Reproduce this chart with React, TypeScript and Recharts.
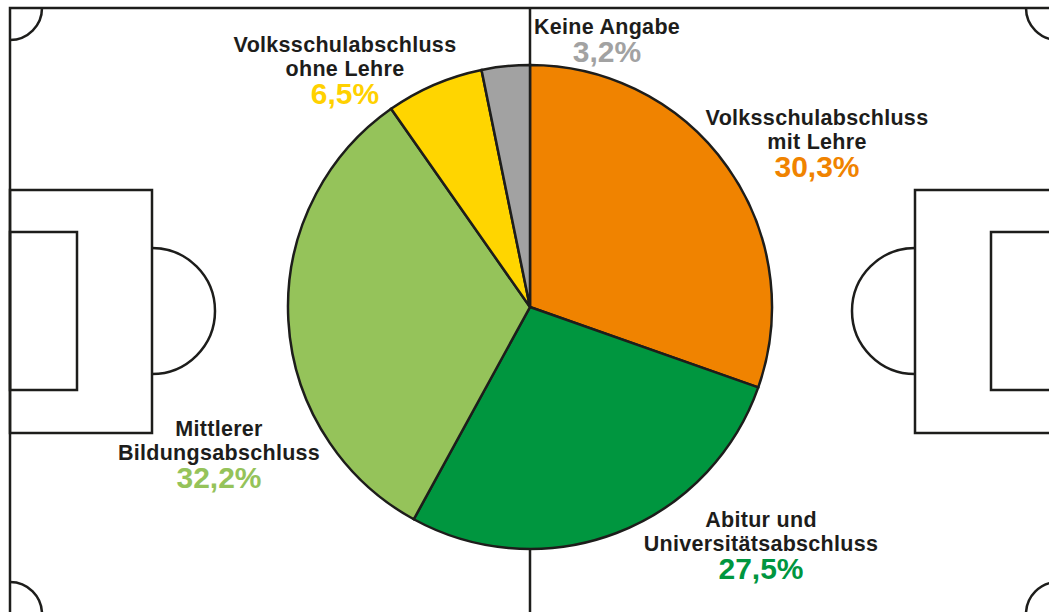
import { PieChart, Pie, Cell } from 'recharts';

// Bildungsabschluss – Anteile in Prozent (Reihenfolge im Uhrzeigersinn ab 12 Uhr)
const categories = [
  'Volksschulabschluss\nmit Lehre',
  'Abitur und\nUniversitätsabschluss',
  'Mittlerer\nBildungsabschluss',
  'Volksschulabschluss\nohne Lehre',
  'Keine Angabe',
];
const shares = [30.3, 27.5, 32.2, 6.5, 3.2];
const sliceColors = ['#F08300', '#00963F', '#95C35A', '#FFD500', '#A2A2A2'];
const textColors = ['#F08300', '#00963F', '#95C35A', '#FFD100', '#A2A2A2'];

// label anchor offsets from the pie centre (first baseline)
const labelOffsets = [
  [287, -182],
  [231, 220],
  [-311, 129],
  [-185, -255],
  [77, -273],
];

const data = categories.map((name, i) => ({ name, value: shares[i] }));

const W = 1049;
const H = 612;
const INK = '#1d1d1b';
const FONT = '"Liberation Sans", Arial, Helvetica, sans-serif';

function arc(cx: number, cy: number, r: number, a0: number, a1: number) {
  const rad = (a: number) => (a * Math.PI) / 180;
  const x0 = cx + r * Math.cos(rad(a0));
  const y0 = cy + r * Math.sin(rad(a0));
  const x1 = cx + r * Math.cos(rad(a1));
  const y1 = cy + r * Math.sin(rad(a1));
  const large = Math.abs(a1 - a0) > 180 ? 1 : 0;
  const sweep = a1 > a0 ? 1 : 0;
  return `M ${x0} ${y0} A ${r} ${r} 0 ${large} ${sweep} ${x1} ${y1}`;
}

function Pitch() {
  const L = 10;
  const R = 1058;
  const T = 8;
  const B = 614;
  const mid = 530;
  const cy = 311;
  return (
    <svg width={W} height={H} style={{ position: 'absolute', left: 0, top: 0 }}>
      <g fill="none" stroke={INK} strokeWidth={2.5}>
        <rect x={L} y={T} width={R - L} height={B - T} />
        <line x1={mid} y1={T} x2={mid} y2={B} />
        <path d={arc(L, T, 32, 0, 90)} />
        <path d={arc(L, B, 32, -90, 0)} />
        <path d={arc(R, T, 32, 90, 180)} />
        <path d={arc(R, B, 32, 180, 270)} />
        <rect x={L} y={190} width={142} height={243} />
        <rect x={L} y={232} width={67} height={158} />
        <path d={arc(152, cy, 63, -90, 90)} />
        <rect x={915} y={190} width={R - 915} height={243} />
        <rect x={991} y={232} width={R - 991} height={158} />
        <path d={arc(915, cy, 63, 90, 270)} />
      </g>
    </svg>
  );
}

const renderLabel = (props: any) => {
  const { cx, cy, index } = props;
  const [dx, dy] = labelOffsets[index];
  const x = cx + dx;
  const y = cy + dy;
  const lines = categories[index].split('\n');
  const pctY = y + (lines.length - 1) * 23.5 + 28;
  return (
    <g key={`lbl-${index}`}>
      <text
        x={x}
        y={y}
        textAnchor="middle"
        fill={INK}
        fontFamily={FONT}
        fontWeight={700}
        fontSize={21.5}
        letterSpacing={0.3}
      >
        {lines.map((ln, i) => (
          <tspan key={i} x={x} y={y + i * 23.5}>
            {ln}
          </tspan>
        ))}
      </text>
      <text x={x} y={pctY} textAnchor="middle" fill={textColors[index]} fontFamily={FONT} fontWeight={700} fontSize={30}>
        {shares[index].toFixed(1).replace('.', ',')}%
      </text>
    </g>
  );
};

export default function App() {
  return (
    <div style={{ position: 'absolute', left: 0, top: 0, width: W, height: H, background: '#fff' }}>
      <Pitch />
      <div style={{ position: 'absolute', left: 0, top: 0 }}>
        <PieChart width={W} height={H} margin={{ top: 0, right: 0, bottom: 0, left: 0 }}>
          <Pie
            data={data}
            dataKey="value"
            nameKey="name"
            cx={530}
            cy={307}
            outerRadius={242}
            startAngle={90}
            endAngle={-270}
            stroke={INK}
            strokeWidth={2.5}
            label={renderLabel}
            labelLine={false}
            isAnimationActive={false}
          >
            {data.map((d, i) => (
              <Cell key={d.name} fill={sliceColors[i]} />
            ))}
          </Pie>
        </PieChart>
      </div>
    </div>
  );
}
